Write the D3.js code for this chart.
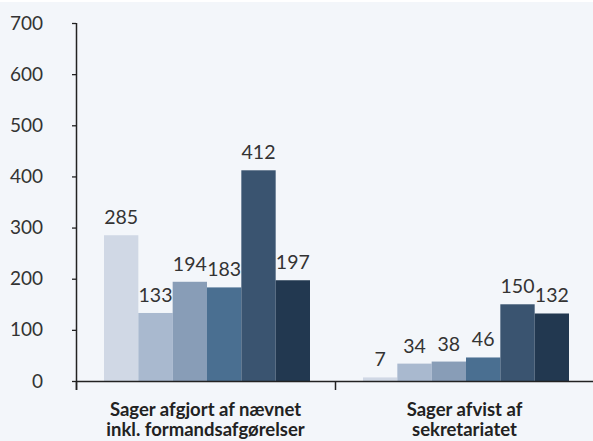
<!DOCTYPE html>
<html>
<head>
<meta charset="utf-8">
<script src="https://cdn.jsdelivr.net/npm/d3@7"></script>
<style>
  html, body { margin: 0; padding: 0; background: #f3f6fa; }
  svg { display: block; font-family: Lato, "Open Sans", sans-serif; }
</style>
</head>
<body>
<svg id="fig"></svg>
<script>
const categories = ['Sager afgjort af nævnet|inkl. formandsafgørelser', 'Sager afvist af|sekretariatet'];
const series = ['s1', 's2', 's3', 's4', 's5', 's6'];
const values = [
    [285, 133, 194, 183, 412, 197],
    [7, 34, 38, 46, 150, 132]
];
const yTicks = [0, 100, 200, 300, 400, 500, 600, 700];
const colors = ['#d0d8e5', '#a9b9cf', '#889db7', '#4a6f91', '#3a5470', '#223850'];

function render(svgTag, width, height) {
    const margin = { top: 23, right: -1, bottom: 60, left: 76 };
    const innerWidth = width - margin.left - margin.right;
    const innerHeight = height - margin.top - margin.bottom;

    const svg = d3.select(svgTag)
        .attr('width', width)
        .attr('height', height)
        .style('background-color', '#f3f6fa');

    svg.append('rect').attr('x', 0).attr('y', 0).attr('width', width).attr('height', 2).attr('fill', '#ffffff');

    const g = svg.append('g')
        .attr('transform', `translate(${margin.left},${margin.top})`);

    const yScale = d3.scaleLinear()
        .domain([0, 700])
        .range([innerHeight, 0]);
    const x0 = d3.scaleBand()
        .domain(categories)
        .range([0, innerWidth]);
    const x1 = d3.scaleBand()
        .domain(series)
        .range([28, x0.bandwidth() - 25]);

    // y axis
    const yAxis = g.append('g').call(d3.axisLeft(yScale)
        .tickValues(yTicks)
        .tickSizeOuter(0)
        .tickSize(4)
        .tickPadding(29));
    yAxis.select('.domain').attr('stroke', '#222').attr('stroke-width', 1.5)
        .attr('d', `M0.5,0V${innerHeight + 9}`);
    yAxis.selectAll('.tick line').attr('stroke', '#222').attr('stroke-width', 1.3);
    yAxis.selectAll('.tick text')
        .attr('font-size', 19)
        .attr('fill', '#333')
        .attr('font-family', 'Lato, sans-serif');

    // bars
    const groups = g.selectAll('.grp').data(categories)
        .enter().append('g')
        .attr('class', 'grp')
        .attr('transform', d => `translate(${x0(d)},0)`);

    groups.selectAll('rect').data((d, i) => values[i].map((v, j) => ({ s: series[j], v: v, j: j })))
        .enter().append('rect')
        .attr('x', d => x1(d.s))
        .attr('y', d => yScale(d.v))
        .attr('width', x1.bandwidth())
        .attr('height', d => innerHeight - yScale(d.v))
        .attr('fill', d => colors[d.j]);

    groups.selectAll('text.val').data((d, i) => values[i].map((v, j) => ({ s: series[j], v: v })))
        .enter().append('text')
        .attr('class', 'val')
        .attr('x', d => x1(d.s) + x1.bandwidth() / 2)
        .attr('y', d => yScale(d.v) - 11)
        .attr('text-anchor', 'middle')
        .attr('font-size', 19.5)
        .attr('fill', '#333')
        .text(d => d.v);

    // x axis
    const xAxis = g.append('g').attr('transform', `translate(0,${innerHeight})`);
    xAxis.append('line')
        .attr('x1', 0).attr('x2', innerWidth + 2)
        .attr('y1', 0.5).attr('y2', 0.5)
        .attr('stroke', '#222').attr('stroke-width', 1.5);
    xAxis.selectAll('line.tk').data(categories)
        .enter().append('line')
        .attr('class', 'tk')
        .attr('x1', d => Math.round(x0(d)) + 0.5).attr('x2', d => Math.round(x0(d)) + 0.5)
        .attr('y1', 0).attr('y2', 9)
        .attr('stroke', '#222').attr('stroke-width', 1.5);

    const lbl = xAxis.selectAll('text.cat').data(categories)
        .enter().append('text')
        .attr('class', 'cat')
        .attr('x', d => x0(d) + x0.bandwidth() / 2)
        .attr('y', 35)
        .attr('text-anchor', 'middle')
        .attr('font-size', 18.5)
        .attr('font-weight', 'bold')
        .attr('fill', '#222');
    lbl.selectAll('tspan').data(d => d.split('|'))
        .enter().append('tspan')
        .attr('x', function () { return d3.select(this.parentNode).attr('x'); })
        .attr('dy', (d, i) => i === 0 ? 0 : 20)
        .text(d => d);
}

render('#fig', 593, 441);
</script>
</body>
</html>
